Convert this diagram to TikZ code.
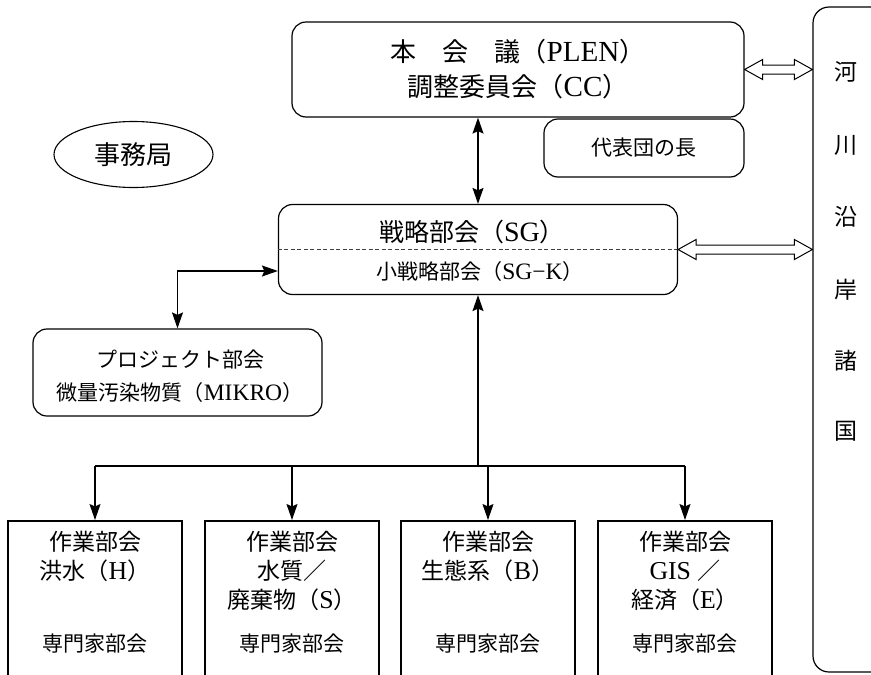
\documentclass[tikz,border=0pt]{standalone}
\usepackage{fontspec}
\setmainfont{Liberation Serif}[Scale=1.12]
\newfontfamily\cjk{Noto Sans CJK JP}
\usetikzlibrary{arrows.meta,calc,shapes.geometric}
\newcommand{\jp}[1]{{\cjk #1}}
\newcommand{\hollowarrow}[2]{%
  \path (#1) coordinate (ha) (#2) coordinate (hb);
  \draw[hollow] (ha) -- ($(ha)+(18,-10)$) -- ($(ha)+(18,-4.5)$) -- ($(hb)+(-18,-4.5)$) -- ($(hb)+(-18,-10)$) -- (hb)
    -- ($(hb)+(-18,10)$) -- ($(hb)+(-18,4.5)$) -- ($(ha)+(18,4.5)$) -- ($(ha)+(18,10)$) -- cycle;}
\begin{document}
\begin{tikzpicture}[x=1pt,y=-1pt,
  rbox/.style={draw, rounded corners=14pt, line width=1.2pt, inner sep=0pt},
  wbox/.style={draw, line width=1.6pt, minimum width=174pt, minimum height=190pt, inner sep=0pt, anchor=north},
  conn/.style={line width=1.4pt, -{Stealth[length=16pt,width=11pt,inset=2.5pt]}},
  bconn/.style={line width=1.4pt, {Stealth[length=16pt,width=11pt,inset=2.5pt]}-{Stealth[length=16pt,width=11pt,inset=2.5pt]}},
  hollow/.style={draw, line width=1pt, fill=white, line join=miter},
  txt/.style={inner sep=0pt, align=center},
  big/.style={font=\fontsize{26}{30}\selectfont},
  mid/.style={font=\fontsize{23}{27}\selectfont},
  small/.style={font=\fontsize{21}{25}\selectfont},
]
\path[use as bounding box, clip] (0,0) rectangle (871,675);

% top plenary
\node[rbox, minimum width=452pt, minimum height=95pt] (plen) at (518,69.5) {};
\node[txt, big] (plen1) at (518,52) {\jp{本　会　議（}PLEN\jp{）}};
\node[txt, big] (plen2) at (518,87) {\jp{調整委員会（}CC\jp{）}};
\node[rbox, small, minimum width=200pt, minimum height=58pt] (deleg) at (644,148) {\jp{代表団の長}};

% riparian states
\node[rbox, rounded corners=16pt, minimum width=120pt, minimum height=665pt] (rivers) at (873,339.5) {};
\node[txt, mid] (r1) at (846,72) {\jp{河}};
\node[txt, mid] (r2) at (846,145) {\jp{川}};
\node[txt, mid] (r3) at (846,217) {\jp{沿}};
\node[txt, mid] (r4) at (846,290) {\jp{岸}};
\node[txt, mid] (r5) at (846,361) {\jp{諸}};
\node[txt, mid] (r6) at (846,431) {\jp{国}};

% secretariat
\node[draw, ellipse, line width=1.1pt, minimum width=159pt, minimum height=66pt, inner sep=0pt, big] (sec) at (133.5,154.5) {\jp{事務局}};

% strategy group
\node[rbox, minimum width=399pt, minimum height=90pt] (sg) at (478,249.5) {};
\draw[dashed, line width=0.8pt, dash pattern=on 4pt off 2.5pt, black!75] (sg.west) -- (sg.east);
\node[txt, font=\fontsize{25}{29}\selectfont] (sg1) at (472,232) {\jp{戦略部会（}SG\jp{）}};
\node[txt, small] (sg2) at (480,272) {\jp{小戦略部会（}SG−K\jp{）}};

% project group
\node[rbox, minimum width=289pt, minimum height=87pt] (mikro) at (177.5,372.5) {};
\node[txt, small] (mk1) at (180,360) {\jp{プロジェクト部会}};
\node[txt, small] (mk2) at (180,393) {\jp{微量汚染物質（}MIKRO\jp{）}};

% working groups
\node[wbox] (h1) at (95,520) {};
\node[wbox] (h2) at (292,520) {};
\node[wbox] (h3) at (488,520) {};
\node[wbox] (h4) at (685,520) {};
\foreach \b in {h1,h2,h3,h4} {
  \node[txt, mid] at ($(\b.north)+(0,22)$) {\jp{作業部会}};
  \node[txt, small] at ($(\b.north)+(0,124)$) {\jp{専門家部会}};
}
\node[txt, mid] at ($(h1.north)+(0,51)$) {\jp{洪水（}H\jp{）}};
\node[txt, mid] at ($(h2.north)+(0,51)$) {\jp{水質／}};
\node[txt, mid] at ($(h2.north)+(0,80)$) {\jp{廃棄物（}S\jp{）}};
\node[txt, mid] at ($(h3.north)+(0,51)$) {\jp{生態系（}B\jp{）}};
\node[txt, mid] at ($(h4.north)+(0,51)$) {GIS \jp{／}};
\node[txt, mid] at ($(h4.north)+(0,80)$) {\jp{経済（}E\jp{）}};

% connectors
\coordinate (bus) at (478,466);
\draw[line width=1.4pt] (h1.north |- bus) -- (h4.north |- bus);
\draw[conn] (bus) -- (sg.south);
\foreach \b in {h1,h2,h3,h4} \draw[conn] (\b.north |- bus) -- (\b.north);
\draw[bconn] (plen.south -| sg.north) -- (sg.north);
\draw[bconn] (mikro.north) |- ($(sg.west)+(0,21.5)$);
\hollowarrow{plen.east}{plen.east -| rivers.west}
\hollowarrow{sg.east}{sg.east -| rivers.west}
\end{tikzpicture}
\end{document}
